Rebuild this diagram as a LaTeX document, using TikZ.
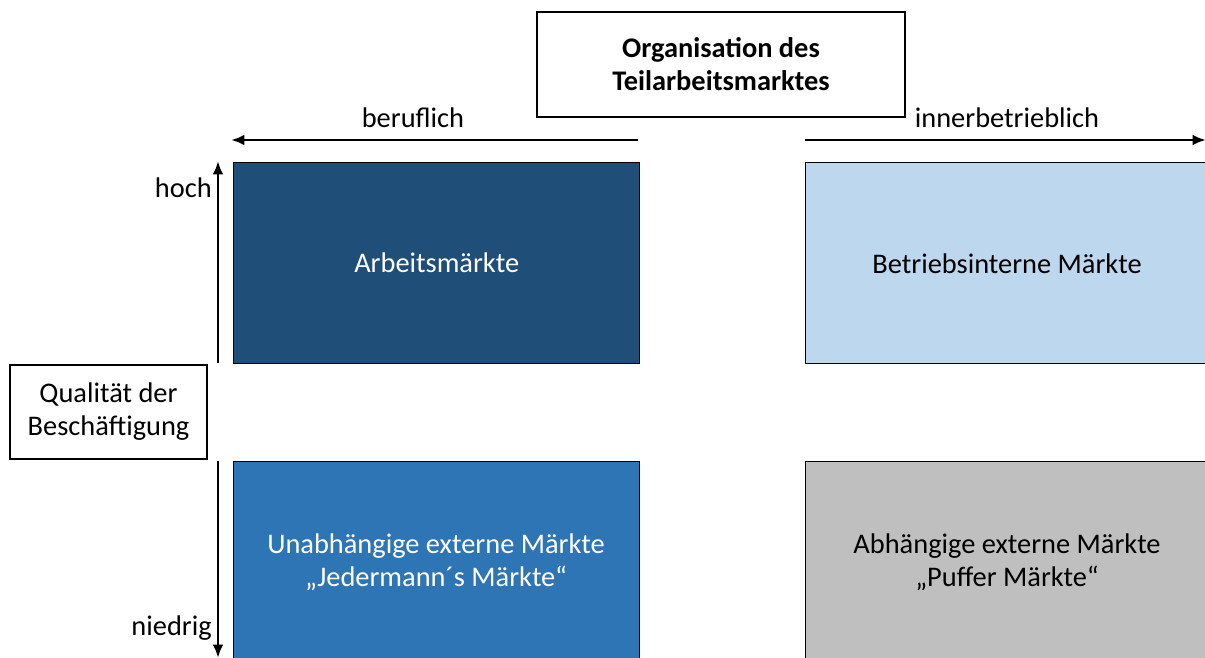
\documentclass[tikz,border=0pt]{standalone}
\usepackage{fontspec}
\setmainfont{Carlito}
\usetikzlibrary{arrows.meta}
\definecolor{dblue}{HTML}{1F4E79}
\definecolor{mblue}{HTML}{2E75B6}
\definecolor{lblue}{HTML}{BDD7EE}
\definecolor{lgray}{HTML}{BFBFBF}
\tikzset{
  txt/.style={font=\fontsize{21.3}{24.75}\selectfont, align=center, inner sep=0pt},
  market/.style={draw=black, line width=1pt, minimum width=406*0.75pt, minimum height=201*0.75pt, txt, anchor=north west},
  frame/.style={draw=black, line width=1pt, fill=white, txt},
  axis/.style={line width=2.2pt, -{Latex[length=10pt,width=8pt]}}
}
\begin{document}
\begin{tikzpicture}[x=0.75pt,y=-0.75pt]
\useasboundingbox (0,0) rectangle (1205,657);
\begin{scope}
\clip (0,0) rectangle (1205,657);
% market boxes
\node[market, fill=dblue, text=white] (am) at (233,162) {Arbeitsmärkte};
\node[market, fill=lblue, minimum width=420*0.75pt] (bm) at (805,162) {};
\node[txt] (bmt) at (1007,264) {Betriebsinterne Märkte};
\node[market, fill=mblue, text=white, minimum height=215*0.75pt] (um) at (233,461) {};
\node[txt, text=white] (umt) at (436,562) {Unabhängige externe Märkte\\„Jedermann´s Märkte“};
\node[market, fill=lgray, minimum width=420*0.75pt, minimum height=215*0.75pt] (pm) at (805,461) {};
\node[txt] (pmt) at (1007,562) {Abhängige externe Märkte\\„Puffer Märkte“};
% top frame
\node[frame, font=\bfseries\fontsize{21.3}{24.75}\selectfont, minimum width=368*0.75pt, minimum height=105*0.75pt] (org) at (721,64.5) {Organisation des\\Teilarbeitsmarktes};
% left frame
\node[frame, minimum width=197*0.75pt, minimum height=94*0.75pt] (qual) at (108.5,412) {Qualität der\\Beschäftigung};
% horizontal arrows
\coordinate (hl0) at (638,140);
\coordinate (hl1) at (231,140);
\coordinate (hr0) at (805,140);
\coordinate (hr1) at (1206,140);
\draw[axis] (hl0) -- (hl1);
\draw[axis] (hr0) -- (hr1);
\node[txt] (ber) at (413,118) {beruflich};
\node[txt] (inn) at (1007,118) {innerbetrieblich};
% vertical arrows
\coordinate (vu0) at (218,363);
\coordinate (vu1) at (218,161);
\coordinate (vd0) at (218,461);
\coordinate (vd1) at (218,658);
\draw[axis] (vu0) -- (vu1);
\draw[axis] (vd0) -- (vd1);
\node[txt, anchor=east] (hoch) at (212,188) {hoch};
\node[txt, anchor=east] (nied) at (212,628) {niedrig};
\end{scope}
\end{tikzpicture}
\end{document}
